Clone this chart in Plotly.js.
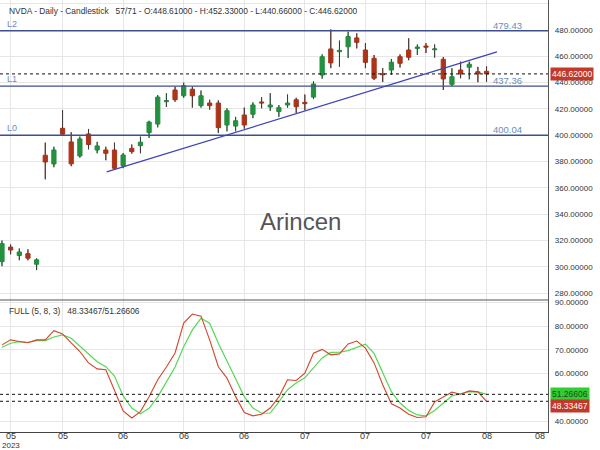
<!DOCTYPE html>
<html><head><meta charset="utf-8">
<script src="https://cdn.plot.ly/plotly-3.0.1.min.js"></script>
<style>html,body{margin:0;padding:0;background:#fff}#chart{width:600px;height:450px}</style>
</head><body><div id="chart"></div>
<script>
// ---- data (NVDA daily) ----
const openP  = [304.0,315.0,308.6,310.0,302.0,384.8,378.2,405.3,394.9,384.3,401.0,388.8,388.8,388.8,376.7,390.0,392.1,402.0,408.5,425.5,434.4,430.0,435.0,422.5,424.5,424.5,407.8,407.0,415.4,416.0,425.3,421.5,418.0,423.0,427.0,425.0,429.0,445.8,465.6,463.5,467.3,474.0,464.8,458.5,446.8,449.6,459.7,464.8,466.0,467.8,465.0,457.7,438.7,449.6,451.7,448.3,448.61];
const highP  = [320.0,317.0,314.0,313.3,306.5,394.4,391.3,419.2,402.3,399.0,404.8,395.0,391.3,394.4,386.5,393.0,399.0,411.0,430.5,432.0,437.0,440.0,437.0,434.0,427.0,426.5,420.5,414.0,421.0,425.0,429.0,432.0,423.0,431.0,428.5,431.0,441.0,461.5,480.5,472.0,478.7,477.5,470.0,461.0,451.0,458.0,461.5,473.7,469.0,470.0,469.0,459.5,451.0,456.0,456.0,452.0,452.33];
const lowP   = [300.5,309.5,305.0,305.0,297.5,366.5,375.7,399.5,376.5,383.0,389.3,386.3,381.0,373.6,375.0,386.0,386.3,398.0,406.0,421.5,425.5,428.5,421.0,421.0,419.5,401.7,403.0,403.0,405.0,413.0,420.5,418.5,414.0,421.0,417.0,419.0,427.5,443.0,451.0,452.0,458.7,466.0,451.0,442.0,440.5,446.0,451.5,457.0,461.0,462.5,459.0,434.4,437.5,443.3,442.5,440.3,440.66];
const closeP = [317.6,312.8,311.3,306.6,305.3,379.7,388.8,400.8,378.3,397.2,393.0,391.9,386.3,374.9,385.0,387.6,394.7,410.0,429.0,426.3,427.0,437.7,430.0,430.0,422.5,405.8,418.7,411.0,407.8,423.0,424.6,423.0,421.0,424.5,421.7,424.0,439.0,459.7,455.0,464.5,475.0,470.6,455.4,443.3,446.1,455.5,454.7,459.3,467.0,467.0,465.6,442.8,444.5,446.6,454.0,446.7,446.62];
// Stochastic full (5,8,3)
const stochK = [72.1,74.2,73.5,73.0,74.2,74.2,78.1,76.7,72.9,69.3,64.5,62.0,61.6,53.2,44.3,41.3,44.0,50.2,57.4,62.8,68.7,81.3,85.1,84.2,74.2,62.9,58.1,50.3,43.6,42.2,42.9,45.5,50.2,57.4,57.1,60.2,68.6,70.2,67.9,68.3,72.5,73.7,70.7,64.5,55.3,47.3,45.5,42.9,41.5,41.8,48.1,50.1,52.2,51.3,52.7,52.3,48.33467];
const stochD = [71.1,72.8,73.4,73.2,73.9,73.9,75.4,76.3,74.9,71.6,67.9,65.0,62.9,59.0,50.6,45.5,43.1,45.4,50.2,56.5,62.8,71.3,78.4,83.3,81.2,72.8,65.0,57.8,50.3,45.5,43.3,43.4,48.1,53.2,56.0,58.2,62.4,66.6,68.9,69.0,69.7,71.2,72.4,68.5,60.2,52.4,47.6,44.5,42.6,42.2,44.5,47.6,50.6,51.5,52.4,52.3,51.26606];
// levels and trendline
const levelNames = ['L2','L1','L0'];
const levelValues = [479.43, 437.36, 400.04];
const trendX = [12.1, 57.2];
const trendY = [372.1, 463.3];
// axis labels
const tickVals = [1,7,14,21,28,35,42,49,56];
const tickText = ['05','05','06','06','06','07','07','07','08'];
const extraTickVal = 62.2, extraTickText = '08';
const yearLabel = '2023';
const priceTicks = [280,300,320,340,360,380,400,420,440,460,480,500];
const stochTicks = [40,60,70,80,90];

const idx = closeP.map((_, i) => i);
const nLast = closeP.length - 1;
const FONT = 'Liberation Sans, Arial, sans-serif';
const UP = '#23913f', DOWN = '#ab3419';

// wick segments outside bodies (drawn dark)
const wx = [], wy = [];
idx.forEach(i => {
  const top = Math.max(openP[i], closeP[i]), bot = Math.min(openP[i], closeP[i]);
  wx.push(i, i, null, i, i, null);
  wy.push(highP[i], top, null, bot, lowP[i], null);
});

const traces = [
  {type:'candlestick', x: idx, open: openP, high: highP, low: lowP, close: closeP,
   increasing:{line:{color:UP, width:1}, fillcolor:UP},
   decreasing:{line:{color:DOWN, width:1}, fillcolor:DOWN},
   whiskerwidth:0, xaxis:'x', yaxis:'y', hoverinfo:'skip', showlegend:false},
  {type:'scatter', mode:'lines', x: wx, y: wy, line:{color:'#3c3c3c', width:1},
   xaxis:'x', yaxis:'y', hoverinfo:'skip', showlegend:false},
  {type:'scatter', mode:'lines', x: idx, y: stochD, line:{color:'#55d855', width:1.2},
   xaxis:'x', yaxis:'y2', hoverinfo:'skip', showlegend:false},
  {type:'scatter', mode:'lines', x: idx, y: stochK, line:{color:'#d2452a', width:1.1},
   xaxis:'x', yaxis:'y2', hoverinfo:'skip', showlegend:false}
];

const H = 432; // plot area height in px
const pY = px => 1 - px / H;

const shapes = [];
levelValues.forEach(v => shapes.push({type:'line', xref:'paper', yref:'y', x0:0, x1:1, y0:v, y1:v,
  line:{color:'#3f4f8c', width:1.4}}));
shapes.push({type:'line', xref:'paper', yref:'y', x0:0, x1:1, y0:closeP[nLast], y1:closeP[nLast],
  line:{color:'#111', width:1, dash:'3px,3px'}});
shapes.push({type:'line', xref:'x', yref:'y', x0:trendX[0], x1:trendX[1], y0:trendY[0], y1:trendY[1],
  line:{color:'#3b45b8', width:1.3}});
shapes.push({type:'line', xref:'paper', yref:'y2', x0:0, x1:1, y0:stochD[nLast], y1:stochD[nLast],
  line:{color:'#111', width:1, dash:'3px,3px'}});
shapes.push({type:'line', xref:'paper', yref:'y2', x0:0, x1:1, y0:stochK[nLast], y1:stochK[nLast],
  line:{color:'#111', width:1, dash:'3px,3px'}});
// pane separator
shapes.push({type:'line', xref:'paper', yref:'paper', x0:0, x1:1, y0:pY(300), y1:pY(300),
  line:{color:'#555', width:1.2}});

const annotations = [];
levelNames.forEach((n, k) => {
  annotations.push({xref:'paper', yref:'y', x:0, y:levelValues[k], xanchor:'left', yanchor:'bottom',
    xshift:5, yshift:0, text:n, showarrow:false, font:{family:FONT, size:9, color:'#6a8cc0'}});
  annotations.push({xref:'paper', yref:'y', x:491/548, y:levelValues[k], xanchor:'left', yanchor:'bottom',
    yshift:-2, text:levelValues[k].toFixed(2), showarrow:false, font:{family:FONT, size:9.5, color:'#6a8cc0'}});
});
annotations.push({xref:'paper', yref:'paper', x:0, y:pY(10.5), xanchor:'left', yanchor:'middle', xshift:7,
  text:'NVDA - Daily - Candlestick &nbsp;&nbsp;' + (nLast + 1) + '/71 - O:' + openP[nLast].toFixed(5) +
  ' - H:' + highP[nLast].toFixed(5) + ' - L:' + lowP[nLast].toFixed(5) + ' - C:' + closeP[nLast].toFixed(5),
  showarrow:false, font:{family:FONT, size:8.4, color:'#333'}});
annotations.push({xref:'paper', yref:'paper', x:0, y:pY(311), xanchor:'left', yanchor:'middle', xshift:7,
  text:'FULL (5, 8, 3) &nbsp;&nbsp;' + stochK[nLast].toFixed(5) + '/' + stochD[nLast].toFixed(5),
  showarrow:false, font:{family:FONT, size:8.4, color:'#333'}});
annotations.push({xref:'paper', yref:'paper', x:300/548, y:pY(222), xanchor:'center', yanchor:'middle',
  text:'Arincen', showarrow:false, font:{family:FONT, size:24, color:'#555'}});
annotations.push({xref:'paper', yref:'y', x:1, y:closeP[nLast], xanchor:'left', yanchor:'middle', xshift:2,
  text:closeP[nLast].toFixed(5), showarrow:false, bgcolor:'#c0392b', borderpad:1,
  font:{family:FONT, size:8.5, color:'#fff'}});
annotations.push({xref:'paper', yref:'y2', x:1, y:stochD[nLast], xanchor:'left', yanchor:'middle', xshift:2,
  text:stochD[nLast].toFixed(5), showarrow:false, bgcolor:'#33cc33', borderpad:1,
  font:{family:FONT, size:8.5, color:'#1c4a1c'}});
annotations.push({xref:'paper', yref:'y2', x:1, y:stochK[nLast], xanchor:'left', yanchor:'middle', xshift:2, yshift:-5,
  text:stochK[nLast].toFixed(5), showarrow:false, bgcolor:'#c0392b', borderpad:1,
  font:{family:FONT, size:8.5, color:'#fff'}});
// x-axis labels
tickVals.forEach((v, k) => annotations.push({xref:'x', yref:'paper', x:v, y:0, xanchor:'center', yanchor:'middle',
  yshift:-3.5, text:tickText[k], showarrow:false, font:{family:FONT, size:9, color:'#333'}}));
annotations.push({xref:'x', yref:'paper', x:extraTickVal, y:0, xanchor:'center', yanchor:'middle', yshift:-3.5,
  text:extraTickText, showarrow:false, font:{family:FONT, size:9, color:'#333'}});
annotations.push({xref:'x', yref:'paper', x:tickVals[0], y:0, xanchor:'center', yanchor:'middle', yshift:-13.5,
  text:yearLabel, showarrow:false, borderpad:0, font:{family:FONT, size:8, color:'#333'}});

const layout = {
  width:600, height:450, margin:{l:0, r:52, t:0, b:18},
  paper_bgcolor:'#fff', plot_bgcolor:'#fff', showlegend:false,
  font:{family:FONT, size:8, color:'#333'},
  xaxis:{range:[-0.23, 63.1], anchor:'y2', tickmode:'array', tickvals:tickVals, showticklabels:false,
    showgrid:true, gridcolor:'#e6e6e6', gridwidth:1, zeroline:false, showline:true, linecolor:'#444', linewidth:1.2,
    ticks:'', rangeslider:{visible:false}, fixedrange:true},
  yaxis:{domain:[pY(300), 1], range:[274.8, 502.8], side:'right', anchor:'x', tickmode:'array',
    tickvals:priceTicks, tickformat:'.5f', showgrid:true, gridcolor:'#e6e6e6', zeroline:false,
    showline:true, linecolor:'#555', linewidth:1.2, ticks:'outside', ticklen:4, tickcolor:'rgba(0,0,0,0)',
    tickfont:{family:FONT, size:8, color:'#333'}},
  yaxis2:{domain:[0, pY(300)], range:[35.4, 91], side:'right', anchor:'x', tickmode:'array',
    tickvals:stochTicks, tickformat:'.5f', showgrid:true, gridcolor:'#e6e6e6', zeroline:false,
    showline:true, linecolor:'#555', linewidth:1.2, ticks:'outside', ticklen:4, tickcolor:'rgba(0,0,0,0)',
    tickfont:{family:FONT, size:8, color:'#333'}},
  shapes:shapes, annotations:annotations
};

Plotly.newPlot('chart', traces, layout, {displayModeBar:false, staticPlot:true});
</script></body></html>
